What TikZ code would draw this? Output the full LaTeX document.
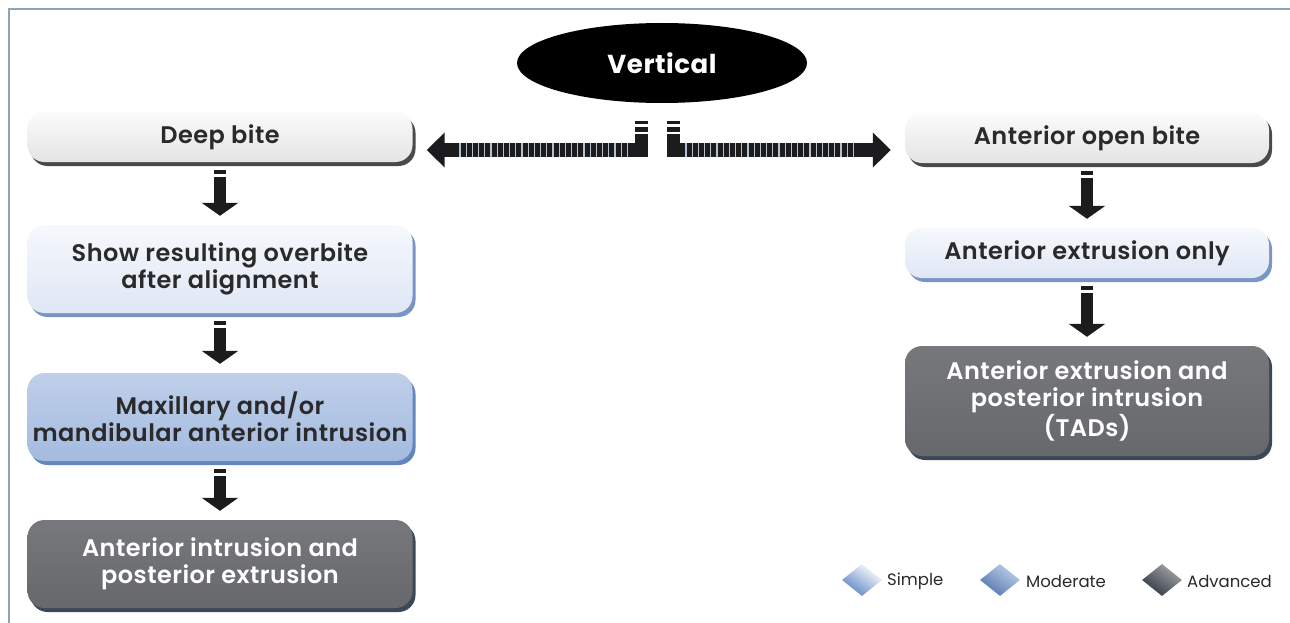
\documentclass[tikz,border=0pt]{standalone}
\usepackage{fontspec}
\setmainfont{Poppins}[UprightFont={* SemiBold},BoldFont={* Bold},LetterSpace=2]
\newfontfamily\legendfont{Poppins}
\usetikzlibrary{shapes.geometric,shadows,arrows.meta,calc}

\definecolor{framec}{HTML}{8EA3B9}
\definecolor{arrowdark}{HTML}{1C1C1E}
\definecolor{gapc}{HTML}{B4C0CE}
\definecolor{txtdark}{HTML}{2A2A2A}
% box palettes: top, bottom, rim
\definecolor{grayT}{HTML}{FBFBFB}
\definecolor{grayB}{HTML}{E4E4E4}
\definecolor{grayR}{HTML}{4A4A4A}
\definecolor{lblueT}{HTML}{F6F8FC}
\definecolor{lblueB}{HTML}{DFE7F5}
\definecolor{lblueR}{HTML}{7895C6}
\definecolor{mblueT}{HTML}{BFCFEA}
\definecolor{mblueB}{HTML}{A4BBDF}
\definecolor{mblueR}{HTML}{6586BD}
\definecolor{dgrayT}{HTML}{77787C}
\definecolor{dgrayB}{HTML}{67686C}
\definecolor{dgrayR}{HTML}{3C4858}
\definecolor{legblue}{HTML}{5C84C2}
\definecolor{legdark}{HTML}{2E3744}

\tikzset{
  flow/.style={rounded corners=17pt, align=center, inner sep=0pt,
    font=\fontsize{24}{27}\selectfont},
  rim/.style={drop shadow={shadow xshift=3pt, shadow yshift=-4pt,
    opacity=1, fill=#1}},
  simplegray/.style={flow, rim=grayR, top color=grayT, bottom color=grayB, text=txtdark},
  simpleblue/.style={flow, rim=lblueR, top color=lblueT, bottom color=lblueB, text=txtdark},
  moderate/.style={flow, rim=mblueR, top color=mblueT, bottom color=mblueB, text=txtdark},
  advanced/.style={flow, rim=dgrayR, top color=dgrayT, bottom color=dgrayB, text=white},
  leftcol/.style={minimum width=385pt},
  rightcol/.style={minimum width=364pt},
  darr/.style={draw=arrowdark, line width=12pt,
    dash pattern=on 4pt off 2.5pt on 300pt off 1pt,
    -{Triangle[width=36pt,length=13pt]}, shorten <=8pt, shorten >=9pt},
  hshaft/.style={draw=arrowdark, line width=14pt,
    -{Triangle[width=34pt,length=18pt]}},
  stripe/.style={draw=gapc, line width=1.3pt},
  legdia/.style={diamond, inner sep=0pt, minimum width=40pt, minimum height=32pt},
  legtxt/.style={anchor=west, inner sep=0pt, text=txtdark,
    font=\legendfont\fontsize{16.5}{18}\selectfont},
}

\begin{document}
\begin{tikzpicture}[x=1pt,y=-1pt]
\useasboundingbox (0,0) rectangle (1290,623);
\fill[white] (0,0) rectangle (1290,623);
\draw[framec, line width=2.5pt] (9,623) -- (9,9) -- (1290,9);

% title
\node[ellipse, fill=black, minimum width=290pt, minimum height=80pt, text=white,
  font=\bfseries\fontsize{26}{30}\selectfont] (vert) at (662,63) {Vertical};

% left column
\node[simplegray, leftcol, minimum height=50pt] (deep) at (220,137) {Deep bite};
\node[simpleblue, leftcol, minimum height=88pt] (show) at (220,269)
  {Show resulting overbite\\after alignment};
\node[moderate, leftcol, minimum height=88pt] (maxi) at (220,417)
  {Maxillary and/or\\mandibular anterior intrusion};
\node[advanced, leftcol, minimum height=88pt] (antint) at (220,564)
  {Anterior intrusion and\\posterior extrusion};

% right column
\node[simplegray, rightcol, minimum height=50pt] (aob) at (1087,138) {Anterior open bite};
\node[simpleblue, rightcol, minimum height=50pt] (extr) at (1087,253) {Anterior extrusion only};
\node[advanced, rightcol, minimum height=110pt] (tads) at (1087,401)
  {Anterior extrusion and\\posterior intrusion\\(TADs)};

% downward connectors
\draw[darr] (deep.south) -- (show.north);
\draw[darr] (show.south) -- (maxi.north);
\draw[darr] (maxi.south) -- (antint.north);
\draw[darr] (aob.south) -- (extr.north);
\draw[darr] (extr.south) -- (tads.north);

% two-way connector below the title
\coordinate (hc) at (657.5,150);
\draw[hshaft] ($(hc)+(-10,0)$) -- ($(deep.east |- hc)+(14,0)$);
\draw[hshaft] ($(hc)+(10,0)$) -- ($(aob.west |- hc)+(-14,0)$);
\foreach \x in {460,466.2,...,632} \draw[stripe] (\x,143.5) -- (\x,156.5);
\foreach \x in {686,692.2,...,858} \draw[stripe] (\x,143.5) -- (\x,156.5);
\foreach \s in {-1,1} {
  \fill[arrowdark] ($(hc)+(\s*16-6.5,-29)$) rectangle ($(hc)+(\s*16+6.5,-25.5)$);
  \fill[arrowdark] ($(hc)+(\s*16-6.5,-22.5)$) rectangle ($(hc)+(\s*16+6.5,-18)$);
  \fill[arrowdark] ($(hc)+(\s*16-6.5,-15.5)$) rectangle ($(hc)+(\s*16+6.5,7)$);
}

% legend
\node[legdia, top color=white, bottom color=legblue, shading angle=-35] (dsimple) at (862,580) {};
\node[legtxt] (lsimple) at (887,581) {Simple};
\node[legdia, top color=mblueT, bottom color=legblue!90!black, shading angle=-35] (dmod) at (1000,580) {};
\node[legtxt] (lmod) at (1026,581) {Moderate};
\node[legdia, top color=gray!70, bottom color=legdark, shading angle=-35] (dadv) at (1162,580) {};
\node[legtxt] (ladv) at (1187,581) {Advanced};
\end{tikzpicture}
\end{document}
